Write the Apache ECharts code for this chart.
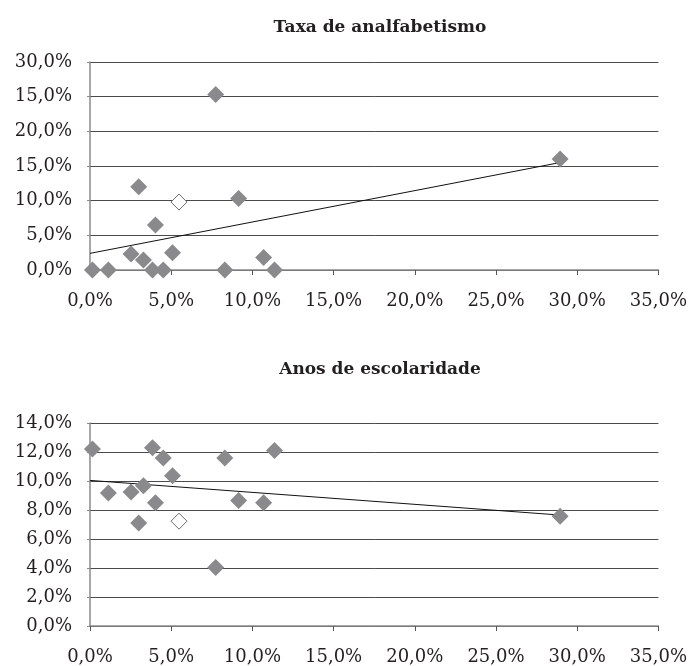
<!DOCTYPE html>
<html>
<head>
<meta charset="utf-8">
<script src="https://cdn.jsdelivr.net/npm/echarts@6/dist/echarts.min.js"></script>
<style>
  html, body { margin: 0; padding: 0; background: #fff; }
  #chart { width: 690px; height: 666px; }
</style>
</head>
<body>
<div id="chart"></div>
<script>
// shared x values (%), one per observation
var xVals = [0.15, 1.13, 2.53, 3.0, 3.29, 3.85, 4.03, 4.51, 5.08, 7.74, 8.3, 9.15, 10.69, 11.36, 28.95];
// taxa de analfabetismo (y %)
var yTaxa = [0, 0, 2.3, 12.0, 1.45, 0, 6.5, 0, 2.5, 25.3, 0, 10.3, 1.8, 0, 16.0];
// anos de escolaridade (y %)
var yAnos = [12.2, 9.18, 9.25, 7.1, 9.68, 12.3, 8.5, 11.58, 10.36, 4.03, 11.58, 8.65, 8.5, 12.1, 7.57];
// highlighted (hollow) observation
var hollowTaxa = [[5.48, 9.8]];
var hollowAnos = [[5.48, 7.23]];
// trend line end points
var trendTaxa = [[0, 2.4], [28.95, 15.5]];
var trendAnos = [[0, 10.04], [28.95, 7.65]];
// tick labels as printed
var xTicks = ['0,0%', '5,0%', '10,0%', '15,0%', '20,0%', '25,0%', '30,0%', '35,0%'];
var yTicksTaxa = ['0,0%', '5,0%', '10,0%', '15,0%', '20,0%', '15,0%', '30,0%'];
var yTicksAnos = ['0,0%', '2,0%', '4,0%', '6,0%', '8,0%', '10,0%', '12,0%', '14,0%'];
var titles = ['Taxa de analfabetismo', 'Anos de escolaridade'];

var font = 'DejaVu Serif';
var textColor = '#231f20';
var markerColor = '#8a8a8c';

function pairs(xs, ys) {
  var out = [];
  for (var i = 0; i < xs.length; i++) {
    out.push([xs[i], ys[i]]);
  }
  return out;
}

function xAxisCfg(gridIndex) {
  return {
    type: 'value', gridIndex: gridIndex, min: 0, max: 35, interval: 5,
    axisLine: { show: true, lineStyle: { color: '#8a8a8a', width: 1.5 } },
    axisTick: { show: true, length: 5, lineStyle: { color: '#555', width: 1 } },
    splitLine: { show: false },
    axisLabel: {
      margin: 22, color: textColor, fontFamily: font, fontSize: 18,
      formatter: function (v) { return xTicks[Math.round(v / 5)]; }
    }
  };
}

function yAxisCfg(gridIndex, max, step, labels) {
  return {
    type: 'value', gridIndex: gridIndex, min: 0, max: max, interval: step,
    axisLine: { show: true, lineStyle: { color: '#8a8a8a', width: 1.5 } },
    axisTick: { show: true, length: 3, lineStyle: { color: '#8a8a8a' } },
    splitLine: { show: true, lineStyle: { color: '#4a4a4a', width: 1 } },
    axisLabel: {
      margin: 18, color: textColor, fontFamily: font, fontSize: 18,
      formatter: function (v) { return labels[Math.round(v / step)]; }
    }
  };
}

function scatter(idx, data) {
  return {
    type: 'scatter', xAxisIndex: idx, yAxisIndex: idx, data: data,
    symbol: 'diamond', symbolSize: 17, z: 5,
    itemStyle: { color: markerColor, opacity: 1 }
  };
}

function hollow(idx, data) {
  return {
    type: 'scatter', xAxisIndex: idx, yAxisIndex: idx, data: data,
    symbol: 'diamond', symbolSize: 16, z: 5,
    itemStyle: { color: '#fff', borderColor: '#6d6d6d', borderWidth: 1, opacity: 1 }
  };
}

function trend(idx, data) {
  return {
    type: 'line', xAxisIndex: idx, yAxisIndex: idx, data: data,
    symbol: 'none', z: 4, silent: true,
    lineStyle: { color: '#111', width: 1 }
  };
}

var chart = echarts.init(document.getElementById('chart'));
chart.setOption({
  animation: false,
  backgroundColor: '#fff',
  title: [
    { text: titles[0], left: 375, top: 14, textAlign: 'center',
      textStyle: { fontFamily: font, fontSize: 17, fontWeight: 'bold', color: textColor } },
    { text: titles[1], left: 375, top: 356, textAlign: 'center',
      textStyle: { fontFamily: font, fontSize: 17, fontWeight: 'bold', color: textColor } }
  ],
  grid: [
    { left: 90, right: 31, top: 62, height: 208 },
    { left: 90, right: 31, top: 423, height: 204 }
  ],
  xAxis: [xAxisCfg(0), xAxisCfg(1)],
  yAxis: [yAxisCfg(0, 30, 5, yTicksTaxa), yAxisCfg(1, 14, 2, yTicksAnos)],
  series: [
    trend(0, trendTaxa),
    scatter(0, pairs(xVals, yTaxa)),
    hollow(0, hollowTaxa),
    trend(1, trendAnos),
    scatter(1, pairs(xVals, yAnos)),
    hollow(1, hollowAnos)
  ]
});
window.addEventListener('resize', function () {
  chart.resize();
});
</script>
</body>
</html>
